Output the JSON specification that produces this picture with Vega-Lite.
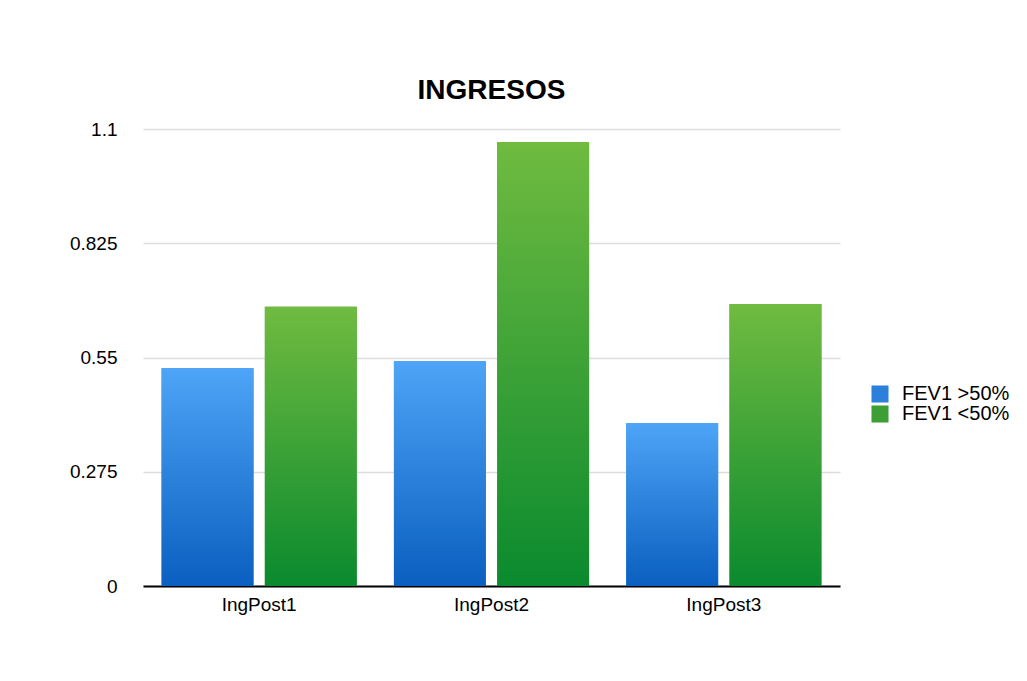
{
  "$schema": "https://vega.github.io/schema/vega-lite/v6.json",
  "autosize": "none",
  "width": 697,
  "height": 457,
  "padding": {"left": 143, "top": 129, "right": 187, "bottom": 95},
  "background": "white",
  "title": {
    "text": "INGRESOS",
    "anchor": "middle",
    "font": "Liberation Sans",
    "fontSize": 28,
    "fontWeight": "bold",
    "color": "black",
    "baseline": "alphabetic",
    "offset": -7
  },
  "data": {
    "values": [
      {"grupo": "IngPost1", "serie": "FEV1 >50%", "valor": 0.524},
      {"grupo": "IngPost1", "serie": "FEV1 <50%", "valor": 0.672},
      {"grupo": "IngPost2", "serie": "FEV1 >50%", "valor": 0.541},
      {"grupo": "IngPost2", "serie": "FEV1 <50%", "valor": 1.069},
      {"grupo": "IngPost3", "serie": "FEV1 >50%", "valor": 0.392},
      {"grupo": "IngPost3", "serie": "FEV1 <50%", "valor": 0.679}
    ]
  },
  "encoding": {
    "x": {
      "field": "grupo",
      "type": "nominal",
      "title": null,
      "scale": {"paddingInner": 0.16, "paddingOuter": 0.08},
      "axis": {
        "labelAngle": 0,
        "labelFont": "Liberation Sans",
        "labelFontSize": 19,
        "labelColor": "black",
        "labelPadding": 9,
        "ticks": false,
        "domainColor": "black",
        "domainWidth": 2,
        "grid": false
      }
    },
    "xOffset": {
      "field": "serie",
      "type": "nominal",
      "sort": ["FEV1 >50%", "FEV1 <50%"],
      "scale": {"paddingInner": 0.11}
    },
    "y": {
      "field": "valor",
      "type": "quantitative",
      "title": null,
      "scale": {"domain": [0, 1.1], "nice": false},
      "axis": {
        "values": [0, 0.275, 0.55, 0.825, 1.1],
        "labelExpr": "datum.value === 0 ? '0' : format(datum.value, '.4~f')",
        "labelFont": "Liberation Sans",
        "labelFontSize": 19,
        "labelColor": "black",
        "labelPadding": 26,
        "ticks": false,
        "domain": false,
        "gridColor": "#dcdcdc",
        "gridWidth": 1.5
      }
    }
  },
  "layer": [
    {
      "mark": {"type": "bar"},
      "encoding": {
        "color": {
          "field": "serie",
          "type": "nominal",
          "sort": ["FEV1 >50%", "FEV1 <50%"],
          "scale": {"domain": ["FEV1 >50%", "FEV1 <50%"], "range": ["#2c80dc", "#3d9e36"]},
          "legend": {
            "title": null,
            "orient": "none",
            "legendX": 727,
            "legendY": 255,
            "symbolType": "square",
            "symbolSize": 290,
            "symbolStrokeWidth": 0,
            "labelFont": "Liberation Sans",
            "labelFontSize": 20,
            "labelColor": "black",
            "labelOffset": 12,
            "rowPadding": 0,
            "padding": 0,
            "encode": {
              "symbols": {
                "update": {
                  "fill": [
                    {
                      "test": "datum.value === 'FEV1 >50%'",
                      "value": {
                        "gradient": "linear",
                        "x1": 0, "y1": 0, "x2": 0, "y2": 1,
                        "stops": [
                          {"offset": 0, "color": "#4ea4f6"},
                          {"offset": 1, "color": "#0a5fc0"}
                        ]
                      }
                    },
                    {
                      "value": {
                        "gradient": "linear",
                        "x1": 0, "y1": 0, "x2": 0, "y2": 1,
                        "stops": [
                          {"offset": 0, "color": "#70bb40"},
                          {"offset": 1, "color": "#0a8a2e"}
                        ]
                      }
                    }
                  ],
                  "opacity": {"value": 1}
                }
              }
            }
          }
        }
      }
    },
    {
      "mark": {"type": "bar"},
      "encoding": {
        "fill": {
          "condition": {
            "test": "datum.serie === 'FEV1 >50%'",
            "value": {
              "gradient": "linear",
              "x1": 0, "y1": 0, "x2": 0, "y2": 1,
              "stops": [
                {"offset": 0, "color": "#4ea4f6"},
                {"offset": 1, "color": "#0a5fc0"}
              ]
            }
          },
          "value": {
            "gradient": "linear",
            "x1": 0, "y1": 0, "x2": 0, "y2": 1,
            "stops": [
              {"offset": 0, "color": "#70bb40"},
              {"offset": 1, "color": "#0a8a2e"}
            ]
          }
        }
      }
    }
  ],
  "config": {
    "view": {"stroke": null}
  }
}
